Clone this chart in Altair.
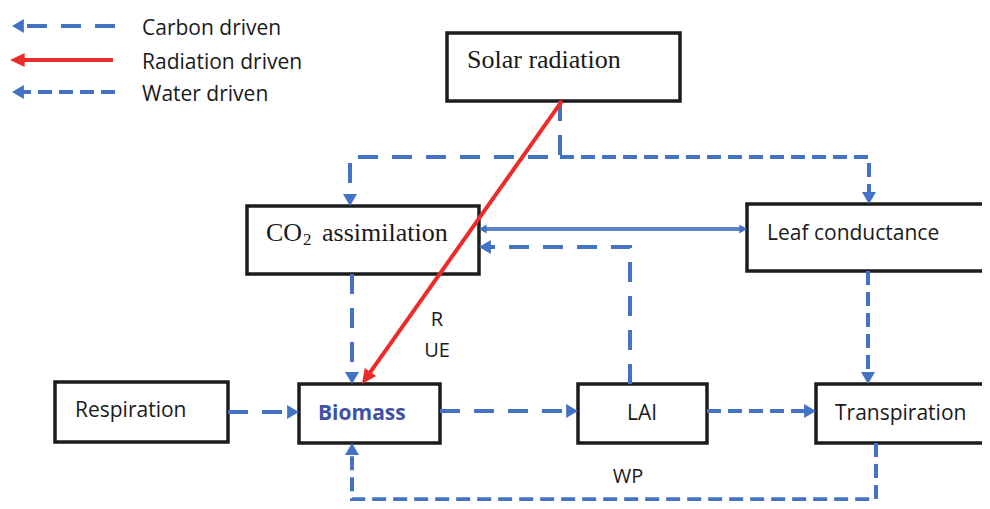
import altair as alt
import pandas as pd

# ---------------- data (diagram coordinates in pixels, y downward) ----------------
box_x1 = [447, 247, 747, 55, 299, 578, 816]
box_x2 = [680, 479, 1000, 228, 440, 707, 1000]
box_y1 = [33, 206, 204, 382, 384, 384, 384]
box_y2 = [101, 274, 271, 442, 443, 443, 443]

path_style = ["carbon", "water", "carbon", "carbon", "carbon", "carbon", "water",
              "water", "water", "link", "radiation", "carbon", "radiation", "water"]
path_points = [
    [(560, 101), (560, 157), (350, 157), (350, 196)],
    [(560, 157), (869, 157), (869, 194)],
    [(352, 274), (352, 374)],
    [(228, 412), (289, 412)],
    [(440, 411), (568, 411)],
    [(630, 384), (630, 247), (489, 247)],
    [(707, 411), (806, 411)],
    [(868, 271), (868, 374)],
    [(876, 443), (876, 504), (352, 504), (352, 453)],
    [(486, 229), (740, 229)],
    [(562, 101), (369, 374)],
    [(115, 26), (22, 26)],
    [(113, 60), (20, 60)],
    [(115, 92), (22, 92)],
]
style_names = ["carbon", "water", "link", "radiation"]
style_colors = ["#4472C4", "#4472C4", "#5B84CC", "#EE2B2B"]
style_dashes = [[20, 14], [14, 7], [1, 0], [1, 0]]
style_widths = [4, 4, 1.1, 4]

arrow_x = [350, 869, 352, 299, 578, 479, 816, 868, 352, 479, 747, 362, 12, 10, 12]
arrow_y = [206, 204, 384, 412, 411, 247, 411, 384, 443, 229, 229, 384, 26, 60, 92]
arrow_angle = [180, 180, 180, 90, 90, 270, 90, 180, 0, 270, 90, 215, 270, 270, 270]
arrow_kind = ["blue"] * 9 + ["thin", "thin", "red", "blue", "red", "blue"]

serif_labels = ["Solar radiation", "CO", "assimilation"]
serif_x = [467, 266, 322]
serif_y = [59, 232, 232]

sub_labels = ["2"]
sub_x = [303]
sub_y = [239]

sans_labels = ["Leaf conductance", "Respiration", "LAI", "Transpiration",
               "Carbon driven", "Radiation driven", "Water driven"]
sans_x = [767, 75, 642, 835, 142, 142, 142]
sans_y = [231, 408, 411, 411, 26, 60, 92]
sans_align = ["left", "left", "center", "left", "left", "left", "left"]

bold_labels = ["Biomass"]
bold_x = [318]
bold_y = [411]

note_labels = ["R", "UE", "WP"]
note_x = [437, 437, 628]
note_y = [317, 348, 477]

# ---------------- build tables ----------------
boxes_df = pd.DataFrame(dict(x1=box_x1, x2=box_x2, y1=box_y1, y2=box_y2))

rows = []
for pid, (st, pts) in enumerate(zip(path_style, path_points)):
    for k, (px, py) in enumerate(pts):
        rows.append(dict(pid=pid, style=st, k=k, x=px, y=py))
lines_df = pd.DataFrame(rows)

BLUE_HEAD = "M0,0L-1,1.7L1,1.7Z"
RED_HEAD = "M0,0L-1,2.1L1,2.1Z"
kind_shape = {"blue": BLUE_HEAD, "thin": BLUE_HEAD, "red": RED_HEAD}
kind_size = {"blue": 196, "thin": 80, "red": 196}
kind_color = {"blue": "#4472C4", "thin": "#4472C4", "red": "#EE2B2B"}
arrows_df = pd.DataFrame(dict(
    x=arrow_x, y=arrow_y, ang=arrow_angle,
    shp=[kind_shape[k] for k in arrow_kind],
    sz=[kind_size[k] for k in arrow_kind],
    col=[kind_color[k] for k in arrow_kind],
))

# the page has an 8px margin: the drawing area is 974 x 493 px.
# y is exact down to 450 px, the last strip is squeezed slightly so the bottom loop fits.
xs = alt.Scale(domain=[8, 982], nice=False, zero=False)
ys = alt.Scale(domain=[8, 450, 506], range=[0, 442, 493], nice=False, zero=False)
X = lambda f: alt.X(f, type="quantitative", scale=xs, axis=None)
Y = lambda f: alt.Y(f, type="quantitative", scale=ys, axis=None)

boxes = alt.Chart(boxes_df).mark_rect(
    fill="white", stroke="#1c1c1c", strokeWidth=3.5, clip=True
).encode(x=X("x1"), x2="x2", y=Y("y1"), y2="y2")

lines = alt.Chart(lines_df).mark_line(strokeCap="butt", strokeJoin="miter", clip=True).encode(
    x=X("x"), y=Y("y"), detail="pid:N", order="k:Q",
    color=alt.Color("style:N", scale=alt.Scale(domain=style_names, range=style_colors), legend=None),
    strokeDash=alt.StrokeDash("style:N", scale=alt.Scale(domain=style_names, range=style_dashes), legend=None),
    strokeWidth=alt.StrokeWidth("style:N", scale=alt.Scale(domain=style_names, range=style_widths), legend=None),
)

arrows = alt.Chart(arrows_df).mark_point(filled=True, opacity=1, strokeWidth=0).encode(
    x=X("x"), y=Y("y"),
    angle=alt.Angle("ang:Q", scale=None),
    shape=alt.Shape("shp:N", scale=None),
    size=alt.Size("sz:Q", scale=None),
    color=alt.Color("col:N", scale=None),
)

def text_layer(labels, xv, yv, font, size, weight="normal", color="#1a1a1a", align="left", dy=0):
    df = pd.DataFrame(dict(t=labels, x=xv, y=yv))
    return alt.Chart(df).mark_text(
        font=font, fontSize=size, fontWeight=weight, color=color, align=align,
        baseline="middle", dy=dy
    ).encode(x=X("x"), y=Y("y"), text="t:N")

def pick(values, want):
    return [v for v, a in zip(values, sans_align) if a == want]

serif = text_layer(serif_labels, serif_x, serif_y, "Liberation Serif", 26, dy=1)
sub = text_layer(sub_labels, sub_x, sub_y, "Liberation Serif", 17, dy=1)
sans_left = text_layer(pick(sans_labels, "left"), pick(sans_x, "left"), pick(sans_y, "left"),
                       "Open Sans", 21, dy=2.5)
sans_center = text_layer(pick(sans_labels, "center"), pick(sans_x, "center"), pick(sans_y, "center"),
                         "Open Sans", 21, align="center", dy=2.5)
bold = text_layer(bold_labels, bold_x, bold_y, "Open Sans", 21, weight="bold", color="#3F51A5", dy=2.5)
notes = text_layer(note_labels, note_x, note_y, "Open Sans", 20, align="center", dy=2.5)

chart = alt.layer(boxes, lines, arrows, serif, sub, sans_left, sans_center, bold, notes).properties(
    width=974, height=493,
    autosize=alt.AutoSizeParams(type="fit", contains="padding"),
    padding=0, background="white",
).configure_view(stroke=None)

chart.save("out.html", embed_options={"renderer": "svg", "actions": False})
